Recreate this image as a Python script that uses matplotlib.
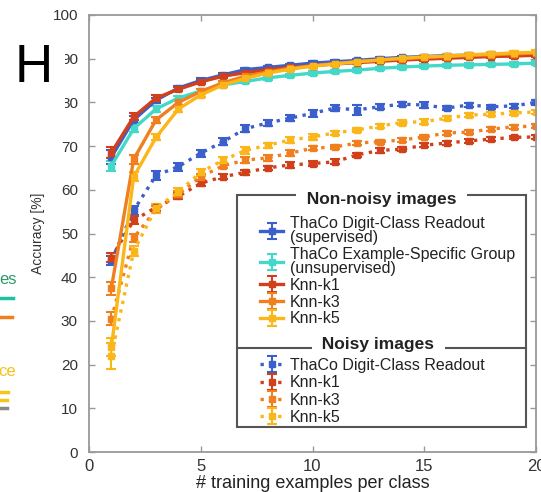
import matplotlib
matplotlib.use("Agg")
import matplotlib.pyplot as plt
from matplotlib.patches import Rectangle
from matplotlib.lines import Line2D

plt.rcParams["font.family"] = ["Liberation Sans", "DejaVu Sans"]

# training examples per class
n_train = list(range(1, 21))

# non-noisy images
thaco_sup = [67.5, 76.0, 80.5, 83.3, 85.0, 86.3, 87.5, 88.0, 88.5, 89.0,
             89.3, 89.6, 90.0, 90.3, 90.5, 90.7, 90.8, 91.0, 91.1, 91.2]
thaco_sup_err = [1.5, 0.8, 0.6, 0.5, 0.5, 0.4, 0.4, 0.4, 0.4, 0.4,
                 0.4, 0.4, 0.4, 0.4, 0.4, 0.4, 0.4, 0.4, 0.4, 0.4]
thaco_unsup = [65.5, 74.0, 78.5, 81.0, 82.6, 84.0, 84.8, 85.6, 86.2, 86.7,
               87.1, 87.4, 87.8, 88.1, 88.3, 88.5, 88.6, 88.7, 88.8, 89.0]
thaco_unsup_err = [1.2, 0.8, 0.6, 0.5, 0.5, 0.4, 0.4, 0.4, 0.4, 0.4,
                   0.4, 0.4, 0.4, 0.4, 0.4, 0.4, 0.4, 0.4, 0.4, 0.4]
knn1 = [68.5, 76.7, 81.0, 83.0, 84.7, 86.0, 86.8, 87.5, 88.0, 88.4,
        88.8, 89.1, 89.4, 89.7, 89.9, 90.1, 90.3, 90.5, 90.6, 90.8]
knn1_err = [1.3, 0.8, 0.6, 0.5, 0.5, 0.4, 0.4, 0.4, 0.4, 0.4,
            0.4, 0.4, 0.4, 0.4, 0.4, 0.4, 0.4, 0.4, 0.4, 0.4]
knn3 = [37.5, 67.0, 76.0, 80.0, 82.5, 84.5, 86.0, 87.0, 87.8, 88.4,
        88.9, 89.3, 89.7, 90.0, 90.3, 90.5, 90.7, 90.9, 91.1, 91.3]
knn3_err = [1.5, 1.0, 0.7, 0.6, 0.5, 0.4, 0.4, 0.4, 0.4, 0.4,
            0.4, 0.4, 0.4, 0.4, 0.4, 0.4, 0.4, 0.4, 0.4, 0.4]
knn5 = [24.0, 63.0, 72.0, 78.5, 81.7, 84.0, 85.5, 86.7, 87.6, 88.3,
        88.8, 89.3, 89.7, 90.1, 90.4, 90.6, 90.9, 91.1, 91.3, 91.5]
knn5_err = [2.0, 1.0, 0.7, 0.6, 0.5, 0.4, 0.4, 0.4, 0.4, 0.4,
            0.4, 0.4, 0.4, 0.4, 0.4, 0.4, 0.4, 0.4, 0.4, 0.4]

# noisy images
thaco_noisy = [43.8, 55.3, 63.3, 65.3, 68.4, 71.0, 74.0, 75.3, 76.4, 77.5,
               78.7, 78.3, 79.0, 79.6, 79.4, 78.7, 79.4, 79.0, 79.2, 80.0]
thaco_noisy_err = [1.0, 1.0, 1.0, 0.9, 0.8, 0.8, 0.8, 0.7, 0.7, 0.8,
                   0.7, 1.2, 0.6, 0.5, 0.6, 0.4, 0.4, 0.4, 0.4, 0.5]
knn1_noisy = [44.5, 53.0, 56.0, 58.5, 61.5, 63.0, 64.0, 65.0, 65.7, 66.0,
              66.4, 68.0, 69.0, 69.3, 70.2, 70.7, 71.2, 71.6, 72.0, 72.1]
knn1_noisy_err = [1.0, 0.9, 0.8, 0.7, 0.6, 0.6, 0.6, 0.5, 0.6, 0.5,
                  0.6, 0.5, 0.5, 0.5, 0.5, 0.4, 0.4, 0.4, 0.4, 0.4]
knn3_noisy = [30.5, 49.0, 55.5, 59.0, 63.0, 65.5, 66.8, 67.3, 68.4, 69.5,
              69.8, 70.7, 71.0, 71.4, 72.1, 73.0, 73.2, 73.9, 74.4, 74.6]
knn3_noisy_err = [1.5, 1.0, 0.9, 0.8, 0.7, 0.6, 0.6, 0.6, 0.6, 0.5,
                  0.5, 0.5, 0.5, 0.5, 0.5, 0.5, 0.5, 0.5, 0.4, 0.4]
knn5_noisy = [22.0, 46.0, 55.8, 59.5, 64.0, 66.8, 69.0, 70.2, 71.4, 72.1,
              73.0, 73.7, 74.6, 75.4, 75.6, 76.4, 77.1, 77.3, 77.6, 77.8]
knn5_noisy_err = [3.0, 1.2, 1.0, 0.9, 0.8, 0.7, 0.7, 0.6, 0.6, 0.6,
                  0.5, 0.5, 0.5, 0.5, 0.5, 0.5, 0.5, 0.5, 0.4, 0.4]

C_BLUE = "#3b5fcc"
C_TURQ = "#44d8c8"
C_RED = "#d0401a"
C_ORANGE = "#f07f20"
C_YELLOW = "#fbb61a"

fig = plt.figure(figsize=(5.41, 4.92), dpi=100)
ax = fig.add_axes([89 / 541, 40 / 492, 447 / 541, 437 / 492])


def curve(y, err, color, ls):
    return ax.errorbar(n_train, y, yerr=err, color=color, ls=ls, lw=2.4,
                       marker="s", ms=4, capsize=3.5, elinewidth=1.5,
                       capthick=1.5)


# noisy curves first (dotted), then non-noisy (solid) on top
h_noisy = [curve(thaco_noisy, thaco_noisy_err, C_BLUE, ":"),
           curve(knn1_noisy, knn1_noisy_err, C_RED, ":"),
           curve(knn3_noisy, knn3_noisy_err, C_ORANGE, ":"),
           curve(knn5_noisy, knn5_noisy_err, C_YELLOW, ":")]
h_clean = [curve(thaco_sup, thaco_sup_err, C_BLUE, "-"),
           curve(thaco_unsup, thaco_unsup_err, C_TURQ, "-"),
           curve(knn1, knn1_err, C_RED, "-"),
           curve(knn3, knn3_err, C_ORANGE, "-"),
           curve(knn5, knn5_err, C_YELLOW, "-")]

ax.set_xlim(0, 20)
ax.set_ylim(0, 100)
ax.set_xticks([0, 5, 10, 15, 20])
ax.set_yticks(range(0, 101, 10))
ax.tick_params(direction="in", top=True, right=True, length=4, width=1,
               color="#999999", labelcolor="#333333")
ax.tick_params(axis="y", pad=8, labelsize=11)
ax.tick_params(axis="x", pad=5, labelsize=12)
for s in ax.spines.values():
    s.set_color("#999999")
    s.set_linewidth(1.3)

ax.set_xlabel("# training examples per class", fontsize=13, color="#222222",
              labelpad=1)
ax.set_ylabel("Accuracy [%]", fontsize=10, color="#333333")
ax.yaxis.set_label_coords(-0.098, 0.5)

# legend box (two stacked sections, titles sitting on the borders)
ax.add_patch(Rectangle((0.331, 0.057), 0.647, 0.531, transform=ax.transAxes,
                       facecolor="white", edgecolor="#555555", lw=1.5,
                       zorder=5))
ax.plot([0.331, 0.978], [0.238, 0.238], transform=ax.transAxes,
        color="#555555", lw=1.5, zorder=5)

leg_kw = dict(loc="upper left", frameon=False, fontsize=11.5,
              handlelength=1.45, handletextpad=0.4, labelspacing=0.11,
              borderpad=0, borderaxespad=0, labelcolor="#222222")
leg1 = ax.legend(h_clean,
                 ["ThaCo Digit-Class Readout\n(supervised)",
                  "ThaCo Example-Specific Group\n(unsupervised)",
                  "Knn-k1", "Knn-k3", "Knn-k5"],
                 bbox_to_anchor=(0.383, 0.541), **leg_kw)
for t in leg1.get_texts():
    t.set_linespacing(0.95)
leg1.set_zorder(6)
ax.add_artist(leg1)
leg_kw["labelspacing"] = 0.14
leg2 = ax.legend(h_noisy,
                 ["ThaCo Digit-Class Readout", "Knn-k1", "Knn-k3", "Knn-k5"],
                 bbox_to_anchor=(0.383, 0.215), **leg_kw)
leg2.set_zorder(6)

ax.text(0.655, 0.578, "  Non-noisy images  ", transform=ax.transAxes,
        ha="center", va="center", fontsize=12.5, fontweight="bold",
        color="#222222", zorder=7,
        bbox=dict(fc="white", ec="none", pad=0.5))
ax.text(0.647, 0.245, "  Noisy images  ", transform=ax.transAxes,
        ha="center", va="center", fontsize=12.5, fontweight="bold",
        color="#222222", zorder=7,
        bbox=dict(fc="white", ec="none", pad=0.5))

# panel letter, its white background hides part of the tick labels
fig.patches.append(Rectangle((0, 380 / 492), 65 / 541, 92 / 492,
                             transform=fig.transFigure, facecolor="white",
                             edgecolor="none", zorder=3))
fig.text(15 / 541, 1 - 82 / 492, "H", fontsize=38, va="baseline",
         color="black", zorder=4)

# pieces of the neighbouring panel's legend at the left edge
fig.text(17 / 541, 1 - 280 / 492, "es", fontsize=12, ha="right",
         va="center", color="#2f9a6c")
fig.text(16 / 541, 1 - 372 / 492, "ce", fontsize=12, ha="right",
         va="center", color="#f4c21c")
for yy, xx, cc in [(298, 13, "#20c0a0"), (317, 12, C_ORANGE),
                   (392, 8, "#f6c51c"), (400, 7, "#f6c51c"),
                   (408, 7, "#888888")]:
    fig.add_artist(Line2D([0, xx / 541], [1 - yy / 492, 1 - yy / 492],
                          transform=fig.transFigure, color=cc, lw=2.5))

fig.savefig("out.png", dpi=100)
